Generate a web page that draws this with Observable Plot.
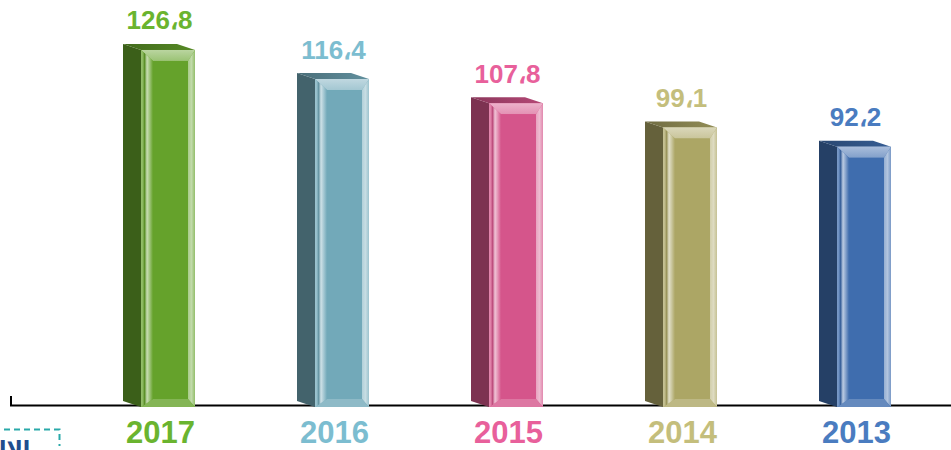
<!DOCTYPE html>
<html><head><meta charset="utf-8">
<script src="https://cdn.jsdelivr.net/npm/d3@7"></script>
<script src="https://cdn.jsdelivr.net/npm/@observablehq/plot@0.6"></script>
<style>html,body{margin:0;padding:0;background:#fff;overflow:hidden}#chart svg{display:block}</style>
</head><body><div id="chart"></div>
<script>
const years = ["2017", "2016", "2015", "2014", "2013"];
const values = [126.8, 116.4, 107.8, 99.1, 92.2];
const barColors = ["#65a22b", "#72a9b9", "#d5558b", "#aca665", "#3f6dae"];
const labelColors = ["#6ab42f", "#7cbdd0", "#e8609b", "#c4be7c", "#4a7cc0"];
const data = years.map((year, i) => ({year, value: values[i], label: values[i].toFixed(1).replace(".", "\u060C")}));

const NS = "http://www.w3.org/2000/svg";
function el(tag, attrs, parent) {
  const e = document.createElementNS(NS, tag);
  for (const k in attrs) e.setAttribute(k, attrs[k]);
  if (parent) parent.appendChild(e);
  return e;
}
function mix(c, t) { return d3.interpolateRgb(c, "#ffffff")(t); }
function dark(c, k) { return d3.color(c).darker(k).formatHex(); }

function bars3d(...args) {
  const scales = args.find(a => a && typeof a.x === "function" && typeof a.y === "function");
  const dims = args.find(a => a && typeof a.marginLeft === "number") || {marginLeft: 10};
  const x = scales.x, y = scales.y;
  const bw = typeof x.bandwidth === "function" ? x.bandwidth() : scales.scales.x.bandwidth;
  const g = el("g", {});
  const defs = el("defs", {}, g);
  const y0 = y(0);
  // left tick of baseline
  el("line", {x1: dims.marginLeft + 1, x2: dims.marginLeft + 1, y1: y0 - 9, y2: y0 + 1, stroke: "#000", "stroke-width": 2}, g);
  data.forEach((d, i) => {
    const base = barColors[i];
    const cx = x(d.year) + bw / 2;
    const L = cx - 27, R = cx + 27, T = y(d.value), B = y0 + 2;
    const Li = L + 12, Ri = R - 7, Ti = T + 11, Bi = B - 8;
    const dx = -18, dy = -6;
    const pts = a => a.map(p => p.join(",")).join(" ");
    // side face
    el("polygon", {points: pts([[L + dx, T + dy], [L, T], [L, B], [L + dx, B + dy]]), fill: dark(base, 1.5)}, g);
    // top face
    const tg = el("linearGradient", {id: "tg" + i, x1: 0, x2: 1, y1: 0, y2: 0}, defs);
    el("stop", {offset: 0, "stop-color": dark(base, 1.2)}, tg);
    el("stop", {offset: 1, "stop-color": dark(base, 0.45)}, tg);
    el("polygon", {points: pts([[L + dx, T + dy], [R + dx, T + dy], [R, T], [L, T]]), fill: `url(#tg${i})`}, g);
    // bevel gradients
    const lg = el("linearGradient", {id: "lg" + i, x1: 0, x2: 1, y1: 0, y2: 0}, defs);
    [[0, mix(base, 0.3)], [0.15, mix(base, 0.25)], [0.3, dark(base, 0.35)], [0.5, mix(base, 0.65)], [0.7, mix(base, 0.4)], [1, base]]
      .forEach(([o, c]) => el("stop", {offset: o, "stop-color": c}, lg));
    const rg = el("linearGradient", {id: "rg" + i, x1: 0, x2: 1, y1: 0, y2: 0}, defs);
    [[0, mix(base, 0.45)], [0.5, mix(base, 0.6)], [1, mix(base, 0.3)]]
      .forEach(([o, c]) => el("stop", {offset: o, "stop-color": c}, rg));
    const ug = el("linearGradient", {id: "ug" + i, x1: 0, x2: 0, y1: 0, y2: 1}, defs);
    [[0, mix(base, 0.55)], [1, mix(base, 0.35)]]
      .forEach(([o, c]) => el("stop", {offset: o, "stop-color": c}, ug));
    el("rect", {x: L, y: T, width: R - L, height: B - T, fill: base}, g);
    el("polygon", {points: pts([[L, T], [R, T], [Ri, Ti], [Li, Ti]]), fill: `url(#ug${i})`}, g);
    el("polygon", {points: pts([[R, T], [R, B], [Ri, Bi], [Ri, Ti]]), fill: `url(#rg${i})`}, g);
    el("polygon", {points: pts([[L, B], [Li, Bi], [Ri, Bi], [R, B]]), fill: mix(base, 0.2)}, g);
    el("polygon", {points: pts([[L, T], [Li, Ti], [Li, Bi], [L, B]]), fill: `url(#lg${i})`}, g);
    el("rect", {x: Li, y: Ti, width: Ri - Li, height: Bi - Ti, fill: base}, g);
  });
  // cropped logo fragment at the lower left
  el("path", {d: "M4,429.5H59.5V446", fill: "none", stroke: "#2aa9a9", "stroke-width": 2, "stroke-dasharray": "6,4"}, g);
  const t = el("text", {x: 0, y: 457, fill: "#1f4e8e", "font-size": 22, "font-weight": "bold", "font-family": "DejaVu Sans"}, g);
  t.textContent = "الإلتل";
  return g;
}

const chart = Plot.plot({
  width: 951,
  height: 450,
  marginLeft: 10,
  marginRight: 0,
  marginTop: 0,
  marginBottom: 45,
  style: {fontFamily: "Liberation Sans, Arial, sans-serif", background: "#fff"},
  x: {type: "band", domain: years, range: [79.6, 953.4], padding: 0, axis: null},
  y: {domain: [0, 144.64], range: [405, 0], axis: null},
  color: {domain: years, range: labelColors},
  marks: [
    Plot.ruleY([0], {stroke: "#000", strokeWidth: 2}),
    bars3d,
    Plot.text(data, {x: "year", y: "value", text: "label", fill: "year", dx: -9, dy: -21, lineAnchor: "bottom", fontSize: 26, fontWeight: "bold"}),
    Plot.text(data, {x: "year", y: () => 0, text: "year", fill: "year", dx: -8, dy: 15, lineAnchor: "top", fontSize: 31, fontWeight: "bold"})
  ]
});
document.getElementById("chart").appendChild(chart);
</script>
</body></html>
